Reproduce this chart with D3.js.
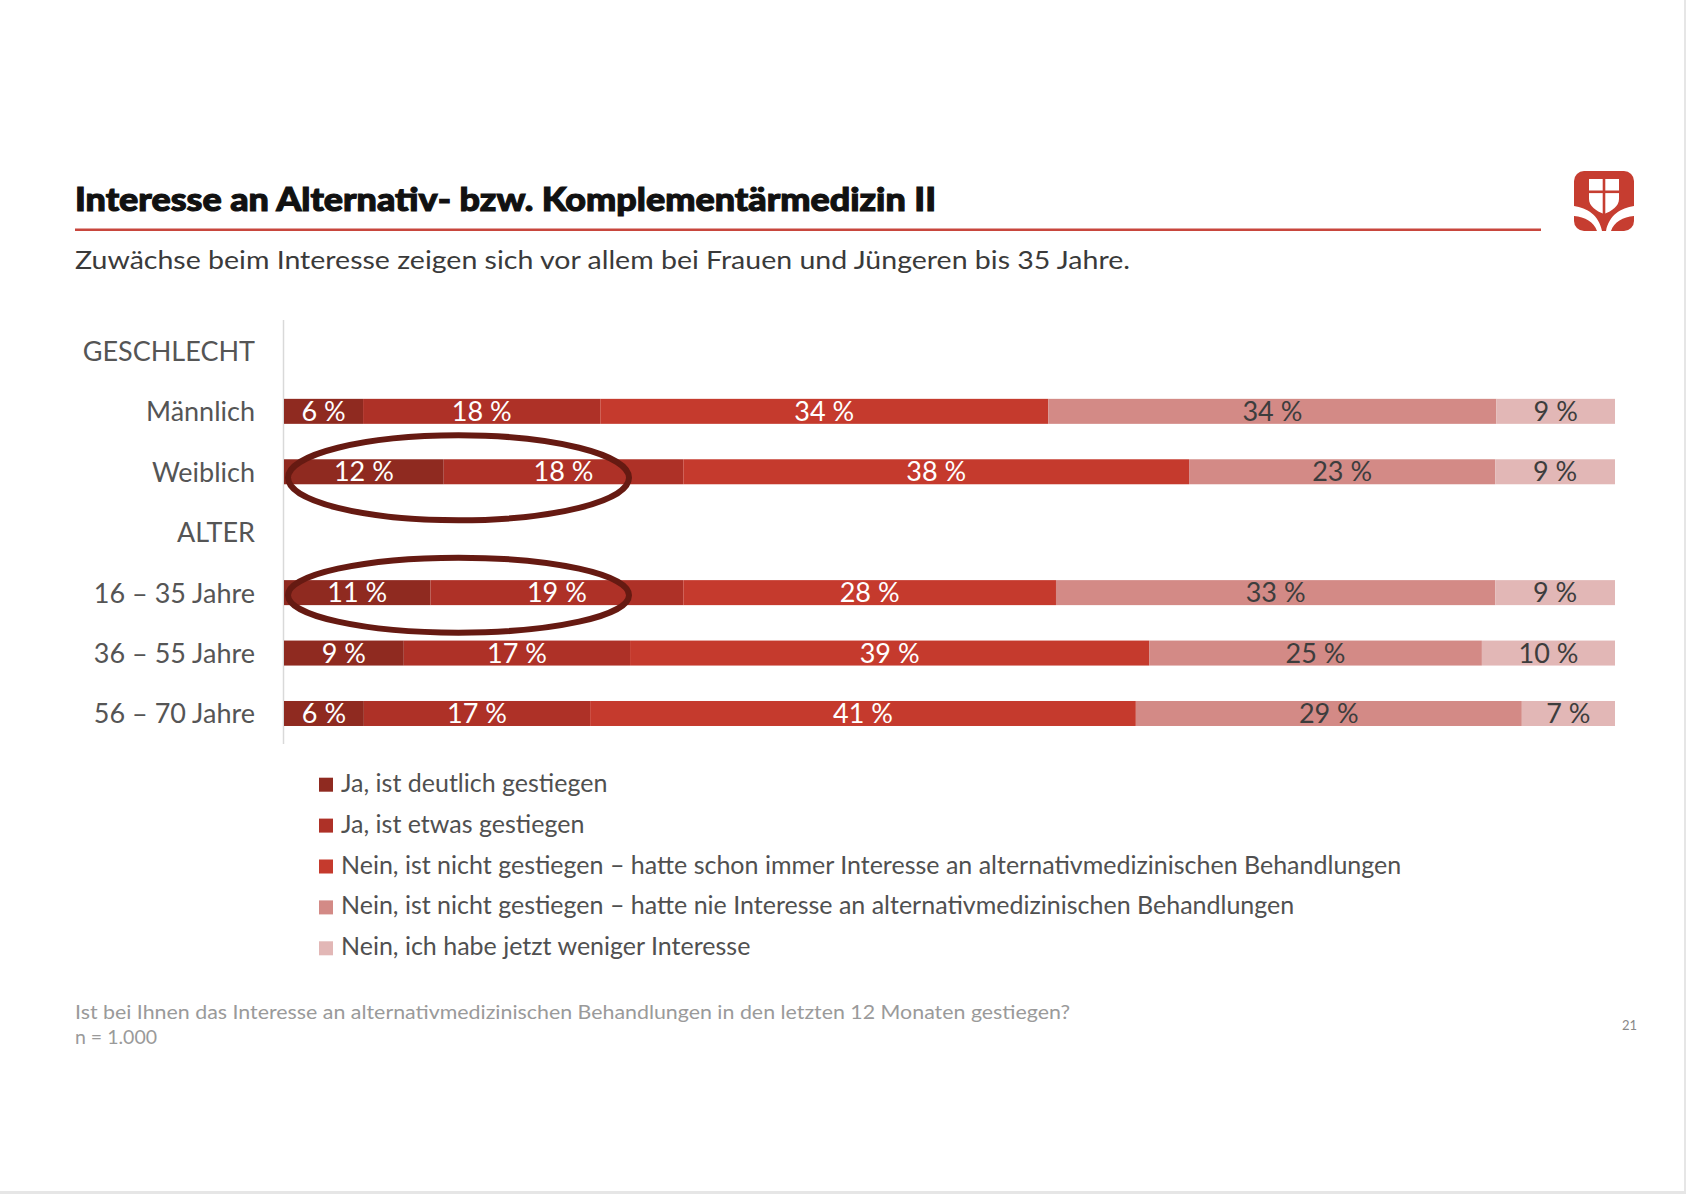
<!DOCTYPE html>
<html><head><meta charset="utf-8">
<script src="https://cdn.jsdelivr.net/npm/d3@7"></script>
<style>
html,body{margin:0;padding:0;background:#fff;}
svg{display:block;}
text{font-family:Lato,"Open Sans",sans-serif;}
</style></head>
<body>
<svg id="c" width="1686" height="1194"></svg>
<script>
// ---- data ----
const rows = ["GESCHLECHT","Männlich","Weiblich","ALTER","16 – 35 Jahre","36 – 55 Jahre","56 – 70 Jahre"];
const headerRows = ["GESCHLECHT","ALTER"];
const categories = ["Männlich","Weiblich","16 – 35 Jahre","36 – 55 Jahre","56 – 70 Jahre"];
const seriesNames = [
  "Ja, ist deutlich gestiegen",
  "Ja, ist etwas gestiegen",
  "Nein, ist nicht gestiegen – hatte schon immer Interesse an alternativmedizinischen Behandlungen",
  "Nein, ist nicht gestiegen – hatte nie Interesse an alternativmedizinischen Behandlungen",
  "Nein, ich habe jetzt weniger Interesse"
];
const deutlich = [6,12,11,9,6];
const etwas    = [18,18,19,17,17];
const immer    = [34,38,28,39,41];
const nie      = [34,23,33,25,29];
const weniger  = [9,9,9,10,7];
const highlighted = ["Weiblich","16 – 35 Jahre"];
const title = "Interesse an Alternativ- bzw. Komplementärmedizin II";
const subtitle = "Zuwächse beim Interesse zeigen sich vor allem bei Frauen und Jüngeren bis 35 Jahre.";
const footnote1 = "Ist bei Ihnen das Interesse an alternativmedizinischen Behandlungen in den letzten 12 Monaten gestiegen?";
const footnote2 = "n = 1.000";
const pageNo = "21";

// ---- styles ----
const colors = ["#8f2a20","#ae3127","#c53a2d","#d38a86","#e2b7b6"];
const labelColors = ["#ffffff","#ffffff","#ffffff","#3d3d3d","#3d3d3d"];

const series = [deutlich, etwas, immer, nie, weniger];
const table = categories.map((c,i)=>{
  const o = {cat:c};
  seriesNames.forEach((s,j)=>o[s]=series[j][i]);
  return o;
});

const svg = d3.select("#c");

// page border
svg.append("rect").attr("x",1684).attr("y",0).attr("width",2).attr("height",1194).attr("fill","#e6e6e6");
svg.append("rect").attr("x",0).attr("y",1191).attr("width",1686).attr("height",3).attr("fill","#e6e6e6");

// title
svg.append("text").attr("x",75).attr("y",211).text(title)
  .attr("font-size",33).attr("font-weight",900).attr("fill","#111")
  .attr("stroke","#111").attr("stroke-width",1.1)
  .attr("textLength",861).attr("lengthAdjust","spacingAndGlyphs");
svg.append("rect").attr("x",75).attr("y",228.5).attr("width",1466).attr("height",2.5).attr("fill","#c8463d");
svg.append("text").attr("x",75).attr("y",269).text(subtitle)
  .attr("font-size",25).attr("fill","#3a3a3a")
  .attr("textLength",1055).attr("lengthAdjust","spacingAndGlyphs");

// logo
const logo = svg.append("g").attr("transform","translate(1574,171)");
logo.append("rect").attr("width",60).attr("height",60).attr("rx",10).attr("fill","#c63d30");
logo.append("path").attr("d","M15,8 H45 V28 C45,35 38,40 30,43 C22,40 15,35 15,28 Z").attr("fill","#fff");
logo.append("rect").attr("x",28.7).attr("y",8).attr("width",2.6).attr("height",36).attr("fill","#c63d30");
logo.append("rect").attr("x",15).attr("y",19.5).attr("width",30).attr("height",2.6).attr("fill","#c63d30");
logo.append("path").attr("d","M0,35 C13,37 25,44 28,60 L23,60 C20,51 11,46 0,45 Z").attr("fill","#fff");
logo.append("path").attr("d","M60,35 C47,37 35,44 32,60 L37,60 C40,51 49,46 60,45 Z").attr("fill","#fff");

// scales
const y = d3.scalePoint().domain(rows).range([320.7,743.7]).padding(0.5);
const x0 = 284, x1 = 1615;
const barH = 25;

// axis line
svg.append("line").attr("x1",283.5).attr("x2",283.5).attr("y1",320).attr("y2",744)
  .attr("stroke","#d9d9d9").attr("stroke-width",1.5);

// row labels
svg.append("g").selectAll("text").data(rows).join("text")
  .attr("x",255).attr("y",d=>y(d)+10).attr("text-anchor","end")
  .attr("font-size",27).attr("fill","#555").text(d=>d);

// stacked bars
const stack = d3.stack().keys(seriesNames);
const stacked = stack(table);
const layers = svg.append("g").selectAll("g").data(stacked).join("g")
  .attr("fill",(d,i)=>colors[i]);
function xs(d){ // per-row scale normalised to row total
  const tot = d3.sum(seriesNames, s=>d.data[s]);
  return d3.scaleLinear().domain([0,tot]).range([x0,x1]);
}
layers.selectAll("rect").data(d=>d).join("rect")
  .attr("x",d=>xs(d)(d[0]))
  .attr("width",d=>xs(d)(d[1])-xs(d)(d[0]))
  .attr("y",d=>y(d.data.cat)-barH/2)
  .attr("height",barH);
const labs = svg.append("g").selectAll("g").data(stacked).join("g")
  .attr("fill",(d,i)=>labelColors[i]);
labs.selectAll("text").data(d=>d).join("text")
  .attr("x",d=>(xs(d)(d[0])+xs(d)(d[1]))/2)
  .attr("y",d=>y(d.data.cat)+9.5)
  .attr("text-anchor","middle").attr("font-size",27)
  .text(d=>(d[1]-d[0])+" %");

// highlight ellipses
svg.append("g").selectAll("ellipse").data(highlighted).join("ellipse")
  .attr("cx",458.5).attr("cy",(d,i)=>y(d)+(i===0?6:2.5))
  .attr("rx",170.5).attr("ry",(d,i)=>i===0?42.5:37.5)
  .attr("fill","none").attr("stroke","#661a12").attr("stroke-width",6);

// legend
const lg = svg.append("g").selectAll("g").data(seriesNames).join("g")
  .attr("transform",(d,i)=>`translate(319,${791.7+i*40.9})`);
lg.append("rect").attr("x",0).attr("y",-14).attr("width",14).attr("height",14)
  .attr("fill",(d,i)=>colors[i]);
lg.append("text").attr("x",22).attr("y",0).attr("font-size",25).attr("fill","#505050").text(d=>d);

// footnotes
svg.append("text").attr("x",75).attr("y",1019).attr("font-size",19.5).attr("fill","#9a9a9a").text(footnote1)
  .attr("textLength",995).attr("lengthAdjust","spacingAndGlyphs");
svg.append("text").attr("x",75).attr("y",1044).attr("font-size",19.5).attr("fill","#9a9a9a").text(footnote2);
svg.append("text").attr("x",1622).attr("y",1030).attr("font-size",13).attr("fill","#888").text(pageNo);
</script>
</body></html>
